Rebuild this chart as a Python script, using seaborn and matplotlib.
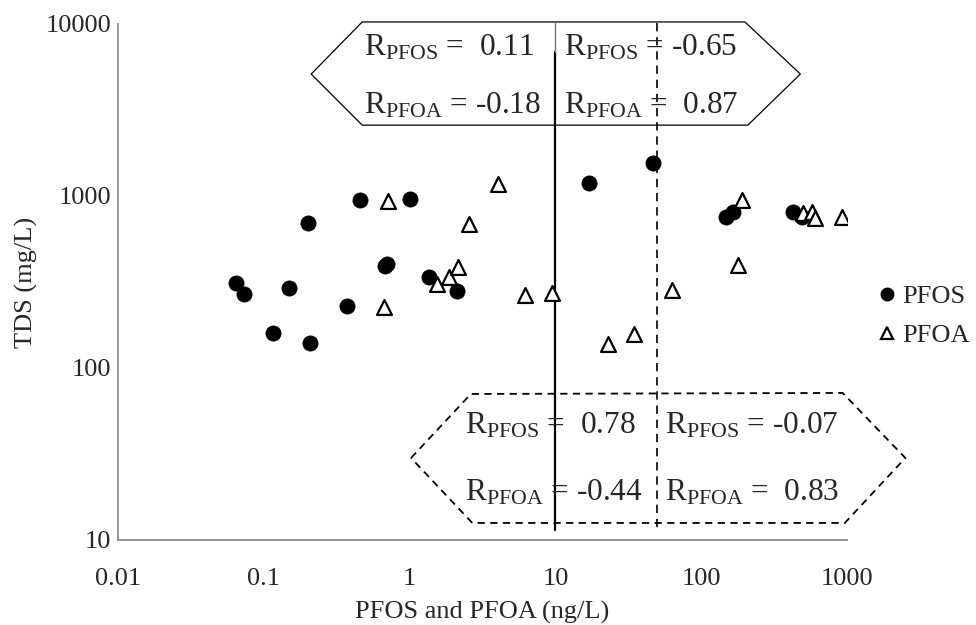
import matplotlib
matplotlib.use("Agg")
import matplotlib.pyplot as plt
from matplotlib.patches import Polygon
from matplotlib.lines import Line2D
from matplotlib.ticker import LogLocator, NullFormatter, FixedLocator
import numpy as np
import pandas as pd
import seaborn as sns

# PFOS concentrations (ng/L) and matching TDS (mg/L)
pfos_x = [0.064, 0.073, 0.116, 0.149, 0.201, 0.208, 0.374, 0.457, 0.68, 0.70,
          1.0, 1.36, 2.12, 17.1, 46.7, 148, 166, 429, 494]
pfos_y = [312, 270, 160, 290, 694, 140, 230, 948, 393, 400,
          956, 340, 279, 1185, 1563, 752, 804, 804, 752]

# PFOA concentrations (ng/L) and matching TDS (mg/L)
pfoa_x = [0.667, 0.71, 1.55, 1.86, 2.15, 2.55, 4.05, 6.17, 9.5, 22.8,
          34.4, 62.9, 180, 190, 502, 573, 604, 920]
pfoa_y = [227, 940, 307, 336, 385, 688, 1170, 266, 274, 138,
          158, 286, 397, 948, 800, 811, 748, 752]

# Concentration thresholds separating the groups (ng/L)
split_solid = 10
split_dashed = 50

# Correlation coefficients: (PFOS, PFOA) for each region
r_upper_left = ("0.11", "-0.18")
r_upper_right = ("-0.65", "0.87")
r_lower_left = ("0.78", "-0.44")
r_lower_right = ("-0.07", "0.83")

x_ticks = [0.01, 0.1, 1, 10, 100, 1000]
x_tick_labels = ["0.01", "0.1", "1", "10", "100", "1000"]
y_ticks = [10, 100, 1000, 10000]
y_tick_labels = ["10", "100", "1000", "10000"]

sns.set_style("white")
serif = "Liberation Serif"
plt.rcParams["font.family"] = [serif, "DejaVu Serif"]
plt.rcParams["mathtext.fontset"] = "custom"
plt.rcParams["mathtext.rm"] = serif
plt.rcParams["mathtext.it"] = serif

fig = plt.figure(figsize=(9.76, 6.25), dpi=100)
ax = fig.add_axes([118 / 976, 85 / 625, 729 / 976, 516 / 625])
ax.set_xscale("log")
ax.set_yscale("log")
ax.set_xlim(0.01, 1000)
ax.set_ylim(10, 10000)

pfos_df = pd.DataFrame({"x": pfos_x, "y": pfos_y})
pfoa_df = pd.DataFrame({"x": pfoa_x, "y": pfoa_y})

sns.scatterplot(data=pfos_df, x="x", y="y", ax=ax, marker="o", s=120,
                color="black", edgecolor="black", linewidth=0.5, zorder=5,
                legend=False)
sns.scatterplot(data=pfoa_df, x="x", y="y", ax=ax, marker="^", s=115,
                color="black", facecolor="white", edgecolor="black",
                linewidth=1.6, zorder=6, legend=False)

# Threshold lines
ax.plot([split_solid, split_solid], [6900, 11.5], color="black", lw=1.6,
        zorder=4)
ax.plot([split_solid, split_solid], [6900, 10200], color="#777777", lw=1.0,
        zorder=4, clip_on=False)
ax.plot([split_dashed, split_dashed], [10200, 11.5], color="black", lw=1.2,
        ls=(0, (5, 3.5)), zorder=4, clip_on=False)

# Upper (solid) and lower (dashed) correlation panels, in axes fractions
upper_shape = [(0.265, 0.903), (0.335, 1.004), (0.860, 1.004),
               (0.936, 0.903), (0.864, 0.804), (0.335, 0.804)]
lower_shape = [(0.402, 0.159), (0.484, 0.283), (0.994, 0.285),
               (1.080, 0.159), (0.997, 0.033), (0.486, 0.033)]
ax.add_patch(Polygon(upper_shape, closed=True, transform=ax.transAxes,
                     facecolor="none", edgecolor="black", lw=0.9,
                     clip_on=False, zorder=3))
ax.add_patch(Polygon(lower_shape, closed=True, transform=ax.transAxes,
                     facecolor="none", edgecolor="black", lw=1.3,
                     ls=(0, (4, 3)), clip_on=False, zorder=3))


def r_text(fx, fy, label, value):
    pad = "  " if not value.startswith("-") else " "
    ax.text(fx, fy, r"R$_{\mathrm{" + label + "}}$ =" + pad + value,
            transform=ax.transAxes, fontsize=22.5, ha="left", va="center",
            zorder=7)


r_text(0.338, 0.954, "PFOS", r_upper_left[0])
r_text(0.338, 0.842, "PFOA", r_upper_left[1])
r_text(0.612, 0.954, "PFOS", r_upper_right[0])
r_text(0.612, 0.842, "PFOA", r_upper_right[1])
r_text(0.476, 0.222, "PFOS", r_lower_left[0])
r_text(0.476, 0.092, "PFOA", r_lower_left[1])
r_text(0.750, 0.222, "PFOS", r_lower_right[0])
r_text(0.750, 0.092, "PFOA", r_lower_right[1])

# Axes styling
spine_color = "#8c8c8c"
for side in ["top", "right"]:
    ax.spines[side].set_visible(False)
for side in ["left", "bottom"]:
    ax.spines[side].set_color(spine_color)
    ax.spines[side].set_linewidth(1.3)

ax.xaxis.set_major_locator(FixedLocator(x_ticks))
ax.set_xticklabels(x_tick_labels)
ax.xaxis.set_minor_locator(LogLocator(base=10, subs=np.arange(2, 10)))
ax.xaxis.set_minor_formatter(NullFormatter())
ax.yaxis.set_major_locator(FixedLocator(y_ticks))
ax.set_yticklabels(y_tick_labels)
ax.yaxis.set_minor_locator(FixedLocator([]))

ax.tick_params(axis="x", which="major", direction="in", length=7, width=1.2,
               color=spine_color, labelsize=19, pad=20)
ax.tick_params(axis="x", which="minor", direction="in", length=4, width=1.0,
               color=spine_color)
ax.tick_params(axis="y", which="major", direction="in", length=7, width=1.2,
               color=spine_color, labelsize=19, pad=5)

ax.set_xlabel("PFOS and PFOA (ng/L)", fontsize=19, labelpad=8)
ax.set_ylabel("TDS (mg/L)", fontsize=19, labelpad=5)

handles = [
    Line2D([], [], marker="o", ls="none", color="black", markersize=9),
    Line2D([], [], marker="^", ls="none", markerfacecolor="white",
           markeredgecolor="black", markeredgewidth=1.6, markersize=9),
]
fig.legend(handles, ["PFOS", "PFOA"], loc="center left",
           bbox_to_anchor=(869 / 976, 1 - 316 / 625), frameon=False,
           fontsize=19, handlelength=0.6, handletextpad=0.25,
           labelspacing=0.6, borderaxespad=0)

fig.savefig("out.png", dpi=100)
